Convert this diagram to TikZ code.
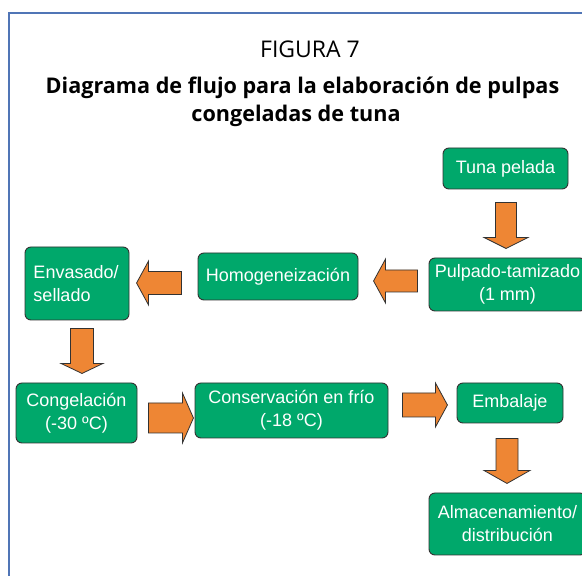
\documentclass[tikz,border=0pt]{standalone}
\usepackage{fontspec}
\setmainfont{Liberation Sans}
\newfontfamily\titlefont{Open Sans}
\usetikzlibrary{calc}
\definecolor{boxgreen}{RGB}{0,168,107}
\definecolor{arrorange}{RGB}{238,134,52}
\definecolor{edgegray}{RGB}{50,50,50}
\definecolor{frameblue}{RGB}{80,117,182}
\tikzset{
  procbox/.style={draw=edgegray, line width=0.9pt, fill=boxgreen, rounded corners=6pt,
    text=white, font=\fontsize{18}{23}\selectfont, align=center, inner sep=0pt},
  farrow/.style={draw=edgegray, line width=0.8pt, fill=arrorange, line join=miter},
  framestyle/.style={draw=frameblue, line width=2.2pt}
}
% #1 start, #2 angle, #3 length, #4 head length, #5 shaft half width, #6 head half width
\newcommand\fatarrow[6]{%
  \draw[farrow, shift={#1}, rotate=#2]
    (0,-#5) -- ({#3-#4},-#5) -- ({#3-#4},-#6) -- (#3,0) -- ({#3-#4},#6) -- ({#3-#4},#5) -- (0,#5) -- cycle;}
\begin{document}
\begin{tikzpicture}[x=1pt,y=1pt]
\useasboundingbox (0,0) rectangle (582,576);
\clip (0,0) rectangle (582,576);
\fill[white] (0,0) rectangle (582,576);
\draw[framestyle] (9,-5) -- (9,563) -- (600,563);

\node[font=\titlefont\fontsize{23}{27}\selectfont] (fig) at (310,527) {FIGURA 7};
\node[font=\titlefont\bfseries\fontsize{21.6}{26}\selectfont] (t1) at (302.5,488) {Diagrama de flujo para la elaboración de pulpas};
\node[font=\titlefont\bfseries\fontsize{21.6}{26}\selectfont] (t2) at (296,460) {congeladas de tuna};

\node[procbox, minimum width=125pt, minimum height=41pt] (tuna) at (505.5,407.5) {Tuna pelada};
\node[procbox, minimum width=157pt, minimum height=53pt] (pulp) at (507.5,291.5) {Pulpado-tamizado\\(1 mm)};
\node[procbox, minimum width=160pt, minimum height=47pt] (homog) at (278,299.5) {Homogeneización};
\node[procbox, minimum width=104pt, minimum height=73pt, align=left, text width=87pt] (envas) at (77,292.5) {Envasado/\\sellado};
\node[procbox, minimum width=121pt, minimum height=60pt] (cong) at (76.5,163) {Congelación\\(-30 ºC)};
\node[procbox, minimum width=193pt, minimum height=55pt] (cons) at (291.5,165.5) {Conservación en frío\\(-18 ºC)};
\node[procbox, minimum width=106pt, minimum height=40pt] (emb) at (510,173) {Embalaje};
\node[procbox, minimum width=157pt, minimum height=62pt] (alm) at (507.5,52) {Almacenamiento/\\distribución};

\fatarrow{($(tuna.south)+(0.5,-13)$)}{-90}{46}{11}{10.5}{22}
\fatarrow{($(pulp.west)+(-11,3.5)$)}{180}{44}{12}{11}{22}
\fatarrow{($(homog.west)+(-16,-6.5)$)}{180}{45}{12}{11.5}{22}
\fatarrow{($(envas.south)+(5,-8)$)}{-90}{45}{10}{11.5}{21}
\fatarrow{($(cong.east)+(11,-5)$)}{0}{45}{11}{15}{25}
\fatarrow{($(cons.east)+(14,5.5)$)}{0}{45}{12}{12}{22}
\fatarrow{($(emb.south)+(-3,-15)$)}{-90}{45}{13}{11}{23}
\end{tikzpicture}
\end{document}
